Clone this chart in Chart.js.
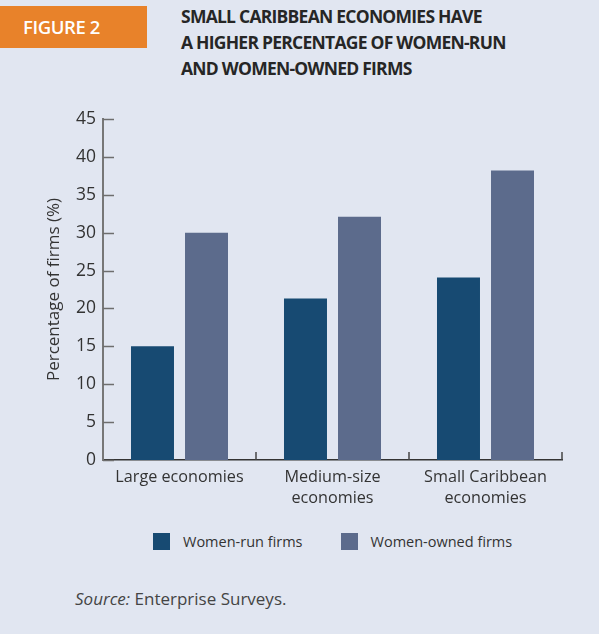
<!DOCTYPE html>
<html>
<head>
<meta charset="utf-8">
<script src="https://cdn.jsdelivr.net/npm/chart.js@4.4.1/dist/chart.umd.min.js"></script>
<style>
  html, body { margin: 0; padding: 0; }
  body { width: 599px; height: 634px; background: #e1e6f1; position: relative; overflow: hidden; font-family: "Open Sans", sans-serif; }
  .tag { position: absolute; left: 0; top: 6px; width: 124px; height: 42px; padding-left: 23px; background: #e8822a; color: #fff;
         font: 600 18.5px "Open Sans", sans-serif; line-height: 42px; letter-spacing: -0.4px; }
  .title { position: absolute; left: 181px; top: 3px; width: 410px; color: #262626;
           font: 700 17.5px "Open Sans", sans-serif; line-height: 26px; letter-spacing: -0.75px; }
  #wrap { position: absolute; left: 0; top: 100px; width: 599px; height: 420px; }
  .legend { position: absolute; top: 532px; left: 153px; display: flex; align-items: center; font-size: 14.5px; color: #333; }
  .legend span.box { display: inline-block; width: 17px; height: 17px; margin-right: 13px; }
  .legend span.item { display: flex; align-items: center; margin-right: 38px; }
  .source { position: absolute; left: 75px; top: 587px; font-size: 17px; color: #444; }
</style>
</head>
<body>
<div class="tag">FIGURE 2</div>
<div class="title">SMALL CARIBBEAN ECONOMIES HAVE<br>A HIGHER PERCENTAGE OF WOMEN-RUN<br>AND WOMEN-OWNED FIRMS</div>
<div id="wrap"><canvas id="chart"></canvas></div>
<div class="legend" id="legend"></div>
<div class="source"><i>Source:</i> Enterprise Surveys.</div>
<script>
const groups = [
  'Large economies',
  ['Medium-size', 'economies'],
  ['Small Caribbean', 'economies']
];
const seriesNames = ['Women-run firms', 'Women-owned firms'];
const womenRun = [15, 21.3, 24.1];
const womenOwned = [30, 32.1, 38.2];
const yTicks = [0, 5, 10, 15, 20, 25, 30, 35, 40, 45];
const colors = ['#174a72', '#5c6b8c'];

// small inward ticks on both axes, like the printed figure
const innerTicks = {
  id: 'innerTicks',
  afterDraw(chart) {
    const { ctx, chartArea, scales } = chart;
    ctx.save();
    ctx.strokeStyle = '#6e6e6e';
    ctx.lineWidth = 1.5;
    yTicks.forEach(v => {
      const y = Math.round(scales.y.getPixelForValue(v)) + 0.5;
      ctx.beginPath();
      ctx.moveTo(chartArea.left, y);
      ctx.lineTo(chartArea.left + 11, y);
      ctx.stroke();
    });
    ctx.strokeStyle = '#444';
    const step = (chartArea.right - chartArea.left) / groups.length;
    for (let i = 1; i <= groups.length; i++) {
      const x = Math.round(chartArea.left + step * i);
      ctx.beginPath();
      ctx.moveTo(x, chartArea.bottom);
      ctx.lineTo(x, chartArea.bottom - 8);
      ctx.stroke();
    }
    ctx.restore();
  }
};

new Chart(document.getElementById('chart'), {
  type: 'bar',
  data: {
    labels: groups,
    datasets: [
      { label: seriesNames[0], data: womenRun, backgroundColor: colors[0] },
      { label: seriesNames[1], data: womenOwned, backgroundColor: colors[1] }
    ]
  },
  options: {
    responsive: true,
    maintainAspectRatio: false,
    animation: false,
    categoryPercentage: 0.706,
    barPercentage: 0.796,
    layout: { padding: { top: 19, right: 37, left: 0, bottom: 0 } },
    plugins: { legend: { display: false }, tooltip: { enabled: false } },
    scales: {
      x: {
        grid: { display: false, drawTicks: false },
        border: { color: '#333', width: 1.5 },
        ticks: { color: '#333', padding: 7, maxRotation: 0,
                 font: { family: 'Open Sans', size: 16.2, lineHeight: 1.3 } },
        afterFit(scale) { scale.height = 60; }
      },
      y: {
        min: 0, max: 45,
        afterBuildTicks(scale) { scale.ticks = yTicks.map(v => ({ value: v })); },
        grid: { display: false, drawTicks: false },
        border: { color: '#777', width: 2 },
        ticks: { color: '#333', padding: 7, font: { family: 'Open Sans', size: 17.5 } },
        title: { display: true, text: 'Percentage of firms (%)', color: '#333',
                 font: { family: 'Open Sans', size: 17 }, padding: { top: 44 } },
        afterFit(scale) { scale.width = 103; }
      }
    }
  },
  plugins: [innerTicks]
});

const legend = document.getElementById('legend');
seriesNames.forEach((name, i) => {
  const item = document.createElement('span');
  item.className = 'item';
  item.innerHTML = '<span class="box" style="background:' + colors[i] + '"></span>' + name;
  legend.appendChild(item);
});
</script>
</body>
</html>
